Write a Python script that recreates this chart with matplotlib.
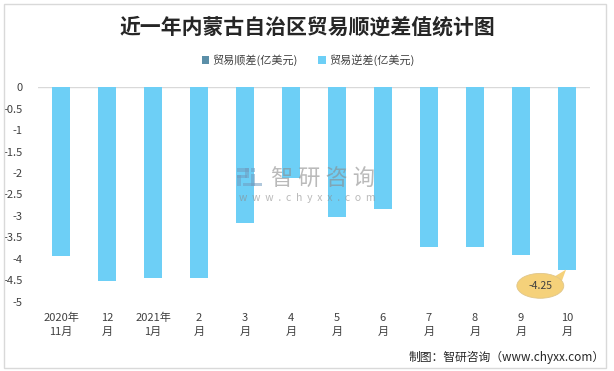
import numpy as np
import matplotlib
matplotlib.use("Agg")
import matplotlib.pyplot as plt
from matplotlib.patches import Patch, Rectangle, Ellipse, Polygon

plt.rcParams['font.family'] = ['Noto Sans CJK SC', 'DejaVu Sans']

# data
months = ["2020年\n11月", "12\n月", "2021年\n1月", "2\n月", "3\n月", "4\n月",
          "5\n月", "6\n月", "7\n月", "8\n月", "9\n月", "10\n月"]
surplus = [0, 0, 0, 0, 0, 0, 0, 0, 0, 0, 0, 0]
deficit = [-3.93, -4.51, -4.44, -4.44, -3.16, -2.12, -3.02, -2.83, -3.72, -3.72, -3.90, -4.25]
yticks = [0, -0.5, -1, -1.5, -2, -2.5, -3, -3.5, -4, -4.5, -5]

c_surplus = "#5B8FA8"
c_deficit = "#6DCFF6"
txt = "#404040"

W, H = 614, 371
fig = plt.figure(figsize=(W / 100, H / 100), dpi=100)
ax = fig.add_axes([38 / W, 1 - 301.7 / H, 552 / W, (301.7 - 87.3) / H])

x = np.arange(len(months))
ax.bar(x, surplus, width=0.385, color=c_surplus)
ax.bar(x, deficit, width=0.385, color=c_deficit, zorder=2)
ax.axhline(0, color="#D9D9D9", lw=1, zorder=1)

ax.set_xlim(-0.5, len(months) - 0.5)
ax.set_ylim(-5, 0)
for s in ax.spines.values():
    s.set_visible(False)
ax.set_yticks(yticks)
ax.set_yticklabels([f"{v:g}" for v in yticks], fontsize=8, color=txt)
ax.tick_params(axis="y", length=0, pad=11)
ax.set_xticks(x)
ax.set_xticklabels(months, fontsize=8, color=txt, linespacing=1.5)
ax.tick_params(axis="x", length=0, pad=8)

# callout for last bar
xl, yl = x[-1], deficit[-1]
bx, by = xl - 0.58, yl - 0.38
poly = Polygon([(xl - 0.02, yl), (bx + 0.22, by + 0.16), (bx + 0.45, by + 0.06)],
               closed=True, facecolor="#F5D17A", edgecolor="none", zorder=3)
ax.add_patch(poly)
ax.add_patch(Ellipse((bx, by), 1.02, 0.58, facecolor="#F5D17A",
                     edgecolor="#E0C68A", lw=0.6, zorder=3))
ax.text(bx, by, f"{yl:g}", ha="center", va="center", fontsize=7.5, color=txt, zorder=4)

# watermark
wm = "#8C8C8C"
fig.text(323 / W, 1 - 179 / H, "智 研 咨 询", fontsize=16, color=wm, alpha=0.6,
         ha="center", va="center")
fig.text(307 / W, 1 - 198 / H, "w  w  w  .  c  h  y  x  x  .  c  o  m", fontsize=7.5,
         color=wm, alpha=0.6, ha="center", va="center")
logo = "#6F9CC0"
for (lx, ly, lw_, lh) in [(237, 168, 12, 4), (245, 168, 4, 10), (237, 175, 4, 11),
                          (237, 175, 10, 3), (251, 168, 4, 4), (251, 174, 4, 12),
                          (243, 183, 19, 3)]:
    fig.patches.append(Rectangle((lx / W, 1 - (ly + lh) / H), lw_ / W, lh / H,
                                 transform=fig.transFigure, facecolor=logo,
                                 edgecolor="none", alpha=0.55))

fig.text(307 / W, 1 - 27 / H, "近一年内蒙古自治区贸易顺逆差值统计图", fontsize=15,
         fontweight="bold", color="#262626", ha="center", va="center")

handles = [Patch(facecolor=c_surplus), Patch(facecolor=c_deficit)]
fig.legend(handles, ["贸易顺差(亿美元)", "贸易逆差(亿美元)"], loc="center",
           bbox_to_anchor=(308 / W, 1 - 60 / H), ncol=2, frameon=False, fontsize=8,
           handlelength=0.7, handleheight=0.7, handletextpad=0.3, columnspacing=1.8,
           labelcolor=txt)

fig.text(605 / W, 1 - 357 / H, "制图：智研咨询（www.chyxx.com）", fontsize=8.5,
         color="#262626", ha="right", va="center")

fig.patches.append(Rectangle((4 / W, 3 / H), 602 / W, 364 / H, transform=fig.transFigure,
                             fill=False, edgecolor="#D9D9D9", lw=1))

fig.savefig("out.png", dpi=100)
